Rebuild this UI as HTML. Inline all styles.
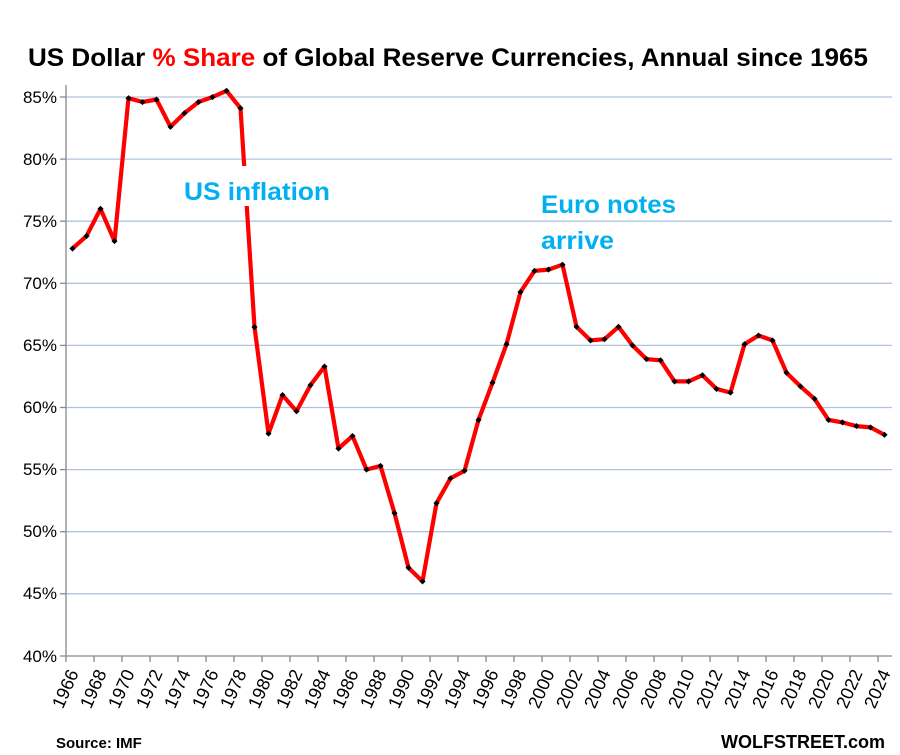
<!DOCTYPE html>
<html><head><meta charset="utf-8"><style>
html,body{margin:0;padding:0;background:#fff;}
svg{display:block;font-family:"Liberation Sans",sans-serif;}
</style></head><body>
<svg width="900" height="755" viewBox="0 0 900 755" xmlns="http://www.w3.org/2000/svg">
<defs>
<marker id="d" viewBox="-4 -4 8 8" markerWidth="7" markerHeight="7" markerUnits="userSpaceOnUse" refX="0" refY="0">
<path d="M0,-3.5 L3.5,0 L0,3.5 L-3.5,0Z" fill="#000"/>
</marker>
</defs>
<text x="28" y="66" font-size="25" font-weight="bold" fill="#000" textLength="840" lengthAdjust="spacingAndGlyphs">US Dollar <tspan fill="#ff0000">% Share</tspan> of Global Reserve Currencies, Annual since 1965</text>
<g stroke="#b0c4de" stroke-width="1.3">
<line x1="66" x2="892" y1="97" y2="97"/><line x1="66" x2="892" y1="159.1" y2="159.1"/>
<line x1="66" x2="892" y1="221.2" y2="221.2"/><line x1="66" x2="892" y1="283.3" y2="283.3"/>
<line x1="66" x2="892" y1="345.4" y2="345.4"/><line x1="66" x2="892" y1="407.5" y2="407.5"/>
<line x1="66" x2="892" y1="469.6" y2="469.6"/><line x1="66" x2="892" y1="531.7" y2="531.7"/>
<line x1="66" x2="892" y1="593.8" y2="593.8"/>
</g>
<g stroke="#898989" stroke-width="1.3">
<line x1="66" y1="85" x2="66" y2="656"/>
<line x1="60" y1="656" x2="892" y2="656"/>
<line x1="60" y1="97" x2="66" y2="97"/><line x1="60" y1="159.1" x2="66" y2="159.1"/><line x1="60" y1="221.2" x2="66" y2="221.2"/><line x1="60" y1="283.3" x2="66" y2="283.3"/><line x1="60" y1="345.4" x2="66" y2="345.4"/><line x1="60" y1="407.5" x2="66" y2="407.5"/><line x1="60" y1="469.6" x2="66" y2="469.6"/><line x1="60" y1="531.7" x2="66" y2="531.7"/><line x1="60" y1="593.8" x2="66" y2="593.8"/>
<path d="M66,656v6M94,656v6M122,656v6M150,656v6M178,656v6M206,656v6M234,656v6M262,656v6M290,656v6M318,656v6M346,656v6M374,656v6M402,656v6M430,656v6M458,656v6M486,656v6M514,656v6M542,656v6M570,656v6M598,656v6M626,656v6M654,656v6M682,656v6M710,656v6M738,656v6M766,656v6M794,656v6M822,656v6M850,656v6M878,656v6"/>
</g>
<g font-size="17" text-anchor="end" fill="#000">
<text x="57" y="103">85%</text><text x="57" y="165">80%</text><text x="57" y="227">75%</text><text x="57" y="289">70%</text><text x="57" y="351">65%</text><text x="57" y="413">60%</text><text x="57" y="475">55%</text><text x="57" y="537">50%</text><text x="57" y="599">45%</text><text x="57" y="662">40%</text>
</g>
<g font-size="18" text-anchor="end" fill="#000">
<text transform="translate(79,673) rotate(-66)">1966</text>
<text transform="translate(107,673) rotate(-66)">1968</text>
<text transform="translate(135,673) rotate(-66)">1970</text>
<text transform="translate(163,673) rotate(-66)">1972</text>
<text transform="translate(191,673) rotate(-66)">1974</text>
<text transform="translate(219,673) rotate(-66)">1976</text>
<text transform="translate(247,673) rotate(-66)">1978</text>
<text transform="translate(275,673) rotate(-66)">1980</text>
<text transform="translate(303,673) rotate(-66)">1982</text>
<text transform="translate(331,673) rotate(-66)">1984</text>
<text transform="translate(359,673) rotate(-66)">1986</text>
<text transform="translate(387,673) rotate(-66)">1988</text>
<text transform="translate(415,673) rotate(-66)">1990</text>
<text transform="translate(443,673) rotate(-66)">1992</text>
<text transform="translate(471,673) rotate(-66)">1994</text>
<text transform="translate(499,673) rotate(-66)">1996</text>
<text transform="translate(527,673) rotate(-66)">1998</text>
<text transform="translate(555,673) rotate(-66)">2000</text>
<text transform="translate(583,673) rotate(-66)">2002</text>
<text transform="translate(611,673) rotate(-66)">2004</text>
<text transform="translate(639,673) rotate(-66)">2006</text>
<text transform="translate(667,673) rotate(-66)">2008</text>
<text transform="translate(695,673) rotate(-66)">2010</text>
<text transform="translate(723,673) rotate(-66)">2012</text>
<text transform="translate(751,673) rotate(-66)">2014</text>
<text transform="translate(779,673) rotate(-66)">2016</text>
<text transform="translate(807,673) rotate(-66)">2018</text>
<text transform="translate(835,673) rotate(-66)">2020</text>
<text transform="translate(863,673) rotate(-66)">2022</text>
<text transform="translate(891,673) rotate(-66)">2024</text>
</g>
<polyline fill="none" stroke="#ff0000" stroke-width="4.2" stroke-linejoin="round" marker-start="url(#d)" marker-mid="url(#d)" marker-end="url(#d)" points="72.5,248.5 86.5,236.1 100.5,208.8 114.5,241.1 128.5,98.2 142.5,102 156.5,99.5 170.5,126.8 184.5,113.1 198.5,102 212.5,97 226.5,90.8 240.5,108.2 254.5,327 268.5,433.6 282.5,395.1 296.5,411.2 310.5,385.1 324.5,366.5 338.5,448.5 352.5,436 366.5,469.6 380.5,465.9 394.5,513.1 408.5,567.7 422.5,581.4 436.5,503.1 450.5,478.3 464.5,470.8 478.5,419.9 492.5,382.7 506.5,344.2 520.5,292 534.5,270.9 548.5,269.6 562.5,264.7 576.5,326.8 590.5,340.4 604.5,339.2 618.5,326.8 632.5,345.4 646.5,359.1 660.5,360.3 674.5,381.4 688.5,381.4 702.5,375.2 716.5,388.9 730.5,392.6 744.5,344.2 758.5,335.5 772.5,340.4 786.5,372.7 800.5,386.4 814.5,398.8 828.5,419.9 842.5,422.4 856.5,426.1 870.5,427.4 884.5,434.8"/>
<rect x="182" y="166" width="152" height="40" fill="#fff"/>
<text x="184" y="200" font-size="25" font-weight="bold" fill="#00b0f0" textLength="146" lengthAdjust="spacingAndGlyphs">US inflation</text>
<text x="541" y="213" font-size="25" font-weight="bold" fill="#00b0f0" textLength="135" lengthAdjust="spacingAndGlyphs">Euro notes</text>
<text x="541" y="249" font-size="25" font-weight="bold" fill="#00b0f0" textLength="73" lengthAdjust="spacingAndGlyphs">arrive</text>
<text x="56" y="748" font-size="15" font-weight="bold" fill="#000">Source: IMF</text>
<text x="885" y="748" font-size="18" font-weight="bold" text-anchor="end" fill="#000">WOLFSTREET.com</text>
</svg>
</body></html>
